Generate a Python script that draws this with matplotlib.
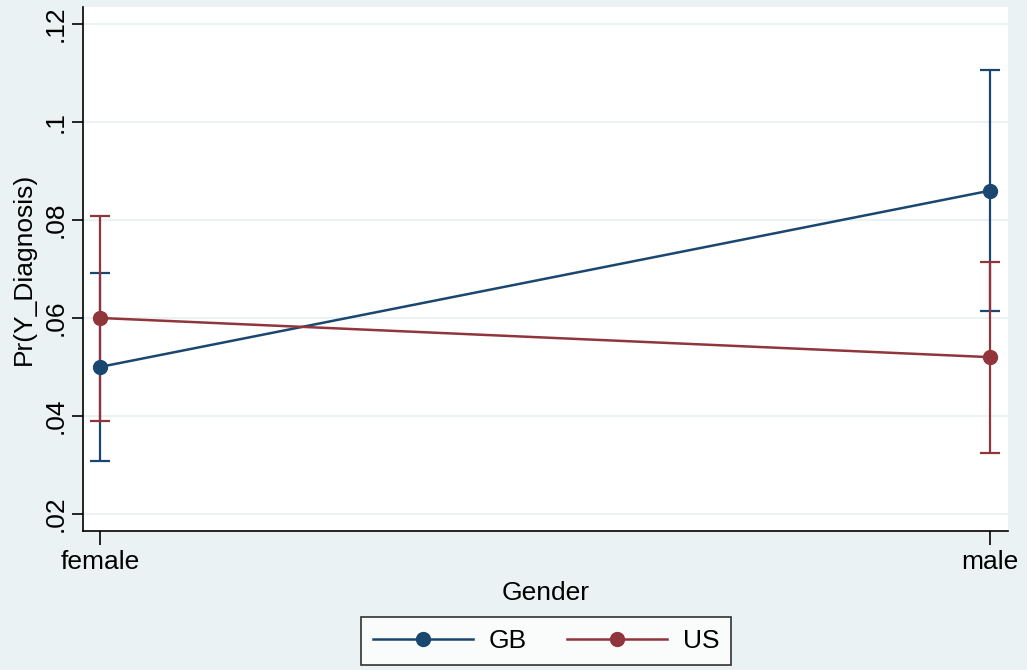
import numpy as np
import matplotlib.pyplot as plt

plt.rcParams['font.family'] = ['Liberation Sans', 'DejaVu Sans']

genders = ["female", "male"]
gb_est = [0.050, 0.086]
gb_lo = [0.0308, 0.0614]
gb_hi = [0.0692, 0.1106]
us_est = [0.060, 0.052]
us_lo = [0.0390, 0.0324]
us_hi = [0.0808, 0.0714]
yticks = [0.02, 0.04, 0.06, 0.08, 0.10, 0.12]
ytick_labels = [".02", ".04", ".06", ".08", ".1", ".12"]

bg = "#eaf2f3"
navy = "#1a476f"
maroon = "#90353b"

fig = plt.figure(figsize=(10.27, 6.70), dpi=100, facecolor=bg)
ax = fig.add_axes([83 / 1027, 1 - 531 / 670, 925 / 1027, 524 / 670])
ax.set_facecolor("white")

x = np.arange(len(genders))
for est, lo, hi, col, lab in [(gb_est, gb_lo, gb_hi, navy, "GB"),
                              (us_est, us_lo, us_hi, maroon, "US")]:
    est = np.array(est)
    err = [est - np.array(lo), np.array(hi) - est]
    ax.errorbar(x, est, yerr=err, fmt="none", ecolor=col, elinewidth=1.6,
                capsize=7, capthick=1.6, zorder=3)
    ax.plot(x, est, color=col, lw=1.8, marker="o", markersize=10, label=lab, zorder=4)

ax.set_xlim(-0.0191, 1.0202)
ax.set_ylim(0.0165, 0.1235)
ax.set_xticks(x)
ax.set_xticklabels(genders)
ax.set_yticks(yticks)
ax.set_yticklabels(ytick_labels, rotation=90, va="center")
ax.grid(axis="y", color=bg, lw=1.5)
ax.set_axisbelow(True)
for s in ["top", "right"]:
    ax.spines[s].set_visible(False)
for s in ["left", "bottom"]:
    ax.spines[s].set_linewidth(1.2)
ax.tick_params(axis="both", labelsize=19, length=8, width=1.2, direction="out", pad=3)
ax.tick_params(axis="x", length=10, pad=4)
ax.set_xlabel("Gender", fontsize=19, labelpad=5)
ax.set_ylabel("Pr(Y_Diagnosis)", fontsize=19, labelpad=6)

leg = fig.legend(loc="center", bbox_to_anchor=(546 / 1027, 1 - 641 / 670), ncol=2,
                 fontsize=19, frameon=True, fancybox=False, handlelength=3.8,
                 columnspacing=1.5, handletextpad=0.6, borderpad=0.45,
                 borderaxespad=0)
leg.get_frame().set_edgecolor("black")
leg.get_frame().set_linewidth(1.2)

fig.savefig("out.png", facecolor=bg)
